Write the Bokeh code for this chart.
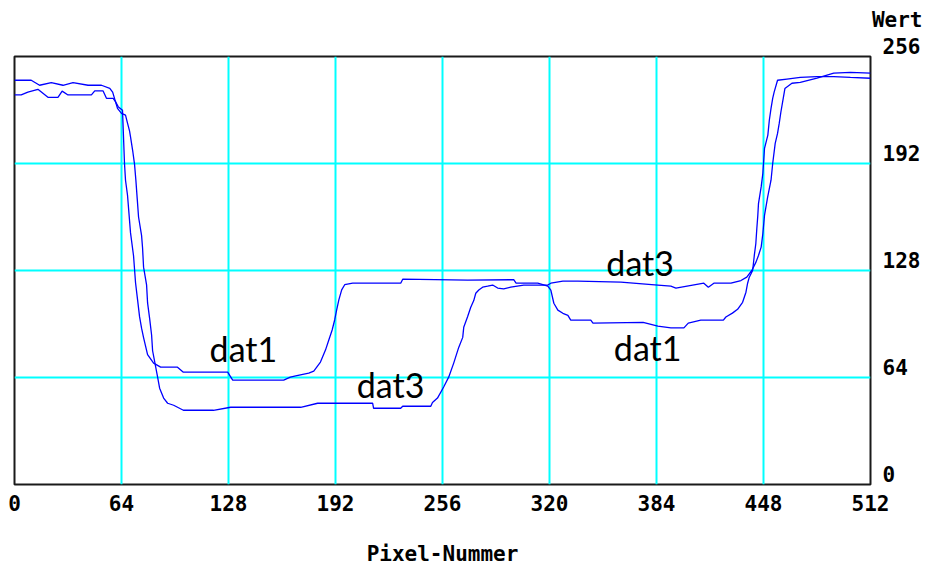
from bokeh.plotting import figure
from bokeh.models import Range1d, LinearAxis, FixedTicker, Label, Title
from bokeh.embed import file_html
from bokeh.resources import INLINE

x_ticks = [0, 64, 128, 192, 256, 320, 384, 448, 512]
y_ticks = [0, 64, 128, 192, 256]
grid_x = [64, 128, 192, 256, 320, 384, 448]
grid_y = [64, 128, 192]

dat1_x = [0, 4, 8, 14, 20, 26, 28.5, 32, 46, 48, 53, 55, 59, 60.4, 62, 64.6, 65.8, 66.4, 67.6,
          69.4, 71.2, 72.4, 73.6, 74.8, 76, 77.2, 79.6, 83.2, 87.4, 97.5, 101, 127.5, 130.5, 161,
          165, 168.2, 176, 179, 183, 186, 188, 190, 191.5, 192.7, 194, 195.7, 197.5, 202.3, 231,
          232.2, 271, 298.6, 300, 313, 319, 320.8, 322.6, 325, 328, 331, 332.7, 344.7, 346, 376,
          384.8, 392.6, 400.4, 403, 410.5, 424, 425.5, 429.4, 432.5, 435.5, 437.5, 438.5, 439.5,
          441.5, 442.5, 443.4, 444, 444.6, 445, 446.6, 447.6, 448.6, 450.6, 451.5, 452.5, 453.5,
          454.4, 456.4, 462, 470, 480, 490, 500, 512]
dat1_y = [233, 233, 234.7, 236.4, 231.6, 231.6, 235.3, 233, 233, 235.4, 235.4, 231, 231, 229, 226,
          223.8, 191.9, 182, 173, 150.5, 136.8, 120.7, 110.6, 100.4, 93.5, 87.9, 77.7, 72.6, 70.2,
          70.2, 67.2, 67.2, 62.4, 62.4, 64.2, 65, 66.6, 67.8, 73.2, 80.4, 86.4, 92.4, 98.4, 104.4,
          110.4, 116.4, 119.5, 120.4, 120.4, 122.8, 122.2, 122.5, 120.4, 120.4, 118.6, 116.3,
          108.4, 104.3, 102.4, 101.2, 98.3, 98.3, 96.5, 97, 94.7, 93.7, 93.7, 96.5, 98.3, 98.3,
          100.2, 102.5, 104.8, 109, 115, 120.4, 124, 128, 137, 144, 153, 161, 168, 178, 186, 201,
          209, 218, 225, 231, 234.8, 241.8, 242.5, 243.5, 244, 244, 243.5, 243]

dat3_x = [0, 10, 15, 22, 29, 35, 44, 52, 57, 58.7, 61.6, 64, 66.4, 67.4, 68.8, 69.4, 70.8, 71.8,
          72.6, 73.4, 74.2, 76, 76.6, 77.2, 79, 79.6, 80.8, 82, 82.6, 85.6, 86.8, 89.2, 91.6, 95.2,
          101, 119, 129.3, 171.2, 181.3, 214.2, 214.8, 231, 232.2, 249, 250, 253, 256.7, 259.7,
          262.7, 265.7, 268.1, 268.7, 271, 272.9, 274.7, 275.9, 277.7, 280, 283, 286, 289, 292.6,
          296.8, 304.6, 319, 320.8, 328, 337, 362.7, 384.8, 392.6, 395.6, 412.3, 415, 418.3, 428.5,
          434.5, 438, 441, 443.5, 445, 446.6, 447.6, 448.6, 450.5, 452.5, 453.5, 455, 456.4, 457.4,
          458.4, 459.8, 460.8, 465, 470, 480, 490, 500, 512]
dat3_y = [241.8, 241.8, 238.8, 240.4, 238.8, 240.4, 238.8, 238.8, 237, 234.7, 225, 222, 220.9,
          216.9, 211.5, 207.9, 198.9, 191.5, 182, 171, 160, 149, 141.5, 130, 119.4, 108.6, 99.5,
          89.4, 80, 64.2, 57.6, 51.7, 48.6, 47.4, 44.4, 44.4, 46.2, 46.2, 48.6, 48.6, 45.6, 45.6,
          46.8, 46.8, 49, 51.7, 58.3, 64.2, 72.6, 82, 88, 94, 100.3, 106, 110, 114.4, 116.3, 118,
          118.6, 119.3, 117.5, 117, 118, 119.3, 119.3, 120.4, 121.6, 121.6, 121, 119.3, 118.6,
          117.5, 120.4, 118, 120.4, 120.4, 122, 124, 128, 133, 137, 142, 150, 161, 172, 182, 192,
          204, 210, 216, 222.8, 231, 236.8, 240, 240.5, 243, 246, 246.5, 246]

MONO = "DejaVu Sans Mono"

p = figure(frame_width=856, frame_height=428,
           x_range=Range1d(0, 512), y_range=Range1d(0, 256),
           output_backend="svg", toolbar_location=None,
           x_axis_location=None, y_axis_location=None,
           min_border_left=14, min_border_right=54, min_border_top=56, min_border_bottom=0,
           background_fill_color="white", border_fill_color="white")

p.xgrid.ticker = FixedTicker(ticks=grid_x)
p.ygrid.ticker = FixedTicker(ticks=grid_y)
for g in (p.xgrid, p.ygrid):
    g.grid_line_color = "#00ffff"
    g.grid_line_width = 2

p.outline_line_color = "#1a1a1a"
p.outline_line_width = 2

xax = LinearAxis(ticker=FixedTicker(ticks=x_ticks), axis_label="Pixel-Nummer")
yax = LinearAxis(ticker=FixedTicker(ticks=y_ticks))
yax.major_label_overrides = {t: f"{t}\n" for t in y_ticks}
yax.major_label_text_line_height = 0.78
for ax in (xax, yax):
    ax.axis_line_color = None
    ax.major_tick_line_color = None
    ax.minor_tick_line_color = None
    ax.major_tick_out = 0
    ax.major_tick_in = 0
    ax.major_label_text_font = MONO
    ax.major_label_text_font_style = "bold"
    ax.major_label_text_font_size = "21px"
    ax.major_label_text_color = "black"
xax.major_label_standoff = 10
yax.major_label_standoff = 12
xax.axis_label_text_font = MONO
xax.axis_label_text_font_style = "bold"
xax.axis_label_text_font_size = "21px"
xax.axis_label_text_color = "black"
xax.axis_label_standoff = 28
p.add_layout(xax, "below")
p.add_layout(yax, "right")

p.add_layout(Title(text="Wert\n", align="right", offset=-52, standoff=2, text_line_height=1.0,
                   text_font=MONO, text_font_style="bold", text_font_size="21px",
                   text_color="black"), "above")

p.line(dat1_x, dat1_y, line_color="#0000ff", line_width=1.3)
p.line(dat3_x, dat3_y, line_color="#0000ff", line_width=1.3)

for tx, ty, tt in [(116.7, 75.5, "dat1"), (204.7, 54, "dat3"), (354, 127, "dat3"), (358.5, 76, "dat1")]:
    p.add_layout(Label(x=tx, y=ty, y_offset=10, text=tt, text_font="Lato", text_font_size="34px",
                       text_baseline="alphabetic", text_color="black"))

open("out.html", "w").write(file_html(p, INLINE))
